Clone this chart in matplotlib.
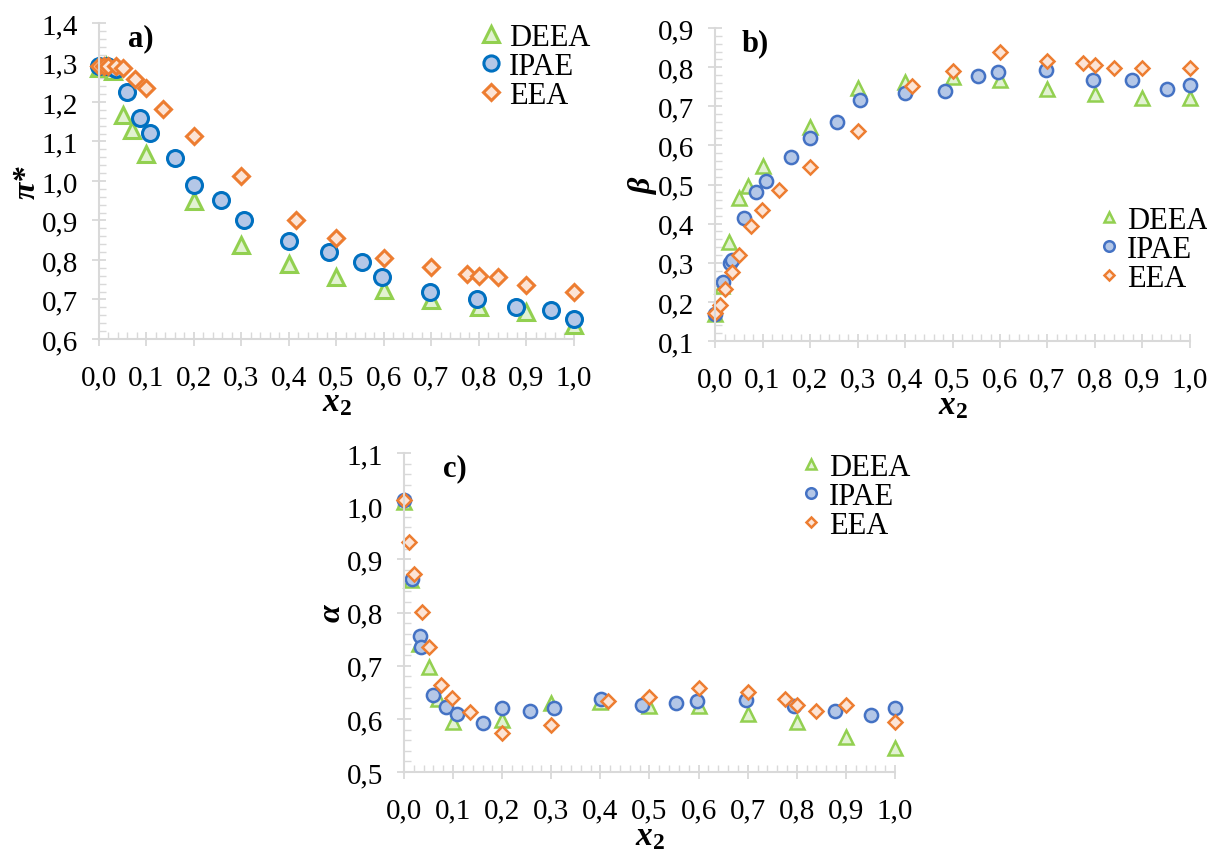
import matplotlib
matplotlib.use("Agg")
import matplotlib.pyplot as plt
from matplotlib.ticker import MultipleLocator, FuncFormatter

plt.rcParams['font.family'] = ['Liberation Serif', 'DejaVu Serif']
plt.rcParams['mathtext.fontset'] = 'custom'
plt.rcParams['mathtext.it'] = 'Liberation Serif:italic:bold'
plt.rcParams['mathtext.rm'] = 'Liberation Serif:bold'

amines = ['DEEA', 'IPAE', 'EEA']

# mole fractions for each amine series
x_deea = [0, 0.015, 0.03, 0.05, 0.07, 0.1, 0.2, 0.3, 0.4, 0.5, 0.6, 0.7, 0.8, 0.9, 1.0]
x_ipae = [0, 0.017, 0.032, 0.035, 0.06, 0.086, 0.108, 0.16, 0.2, 0.256, 0.305, 0.401,
          0.485, 0.553, 0.596, 0.696, 0.795, 0.878, 0.952, 1.0]
x_eea = [0, 0.01, 0.02, 0.036, 0.05, 0.075, 0.098, 0.135, 0.2, 0.3, 0.415, 0.5,
         0.6, 0.7, 0.775, 0.8, 0.84, 0.9, 1.0]

# a) pi*
pi_deea = [1.285, 1.29, 1.278, 1.167, 1.13, 1.068, 0.95, 0.839, 0.79, 0.757, 0.724,
           0.699, 0.68, 0.668, 0.635]
pi_ipae = [1.29, 1.29, 1.285, 1.283, 1.226, 1.16, 1.121, 1.057, 0.99, 0.951, 0.901,
           0.847, 0.82, 0.794, 0.758, 0.72, 0.70, 0.68, 0.673, 0.651]
pi_eea = [1.29, 1.292, 1.292, 1.29, 1.285, 1.258, 1.235, 1.182, 1.115, 1.013, 0.9,
          0.855, 0.805, 0.781, 0.764, 0.759, 0.756, 0.737, 0.718]

# b) beta
beta_deea = [0.17, 0.24, 0.353, 0.465, 0.497, 0.548, 0.646, 0.746, 0.761, 0.776,
             0.766, 0.743, 0.731, 0.721, 0.721]
beta_ipae = [0.17, 0.252, 0.30, 0.306, 0.415, 0.48, 0.508, 0.571, 0.618, 0.659, 0.717,
             0.734, 0.74, 0.778, 0.787, 0.794, 0.767, 0.766, 0.744, 0.754]
beta_eea = [0.172, 0.191, 0.234, 0.276, 0.319, 0.395, 0.434, 0.487, 0.546, 0.636,
            0.753, 0.789, 0.838, 0.817, 0.811, 0.806, 0.798, 0.798, 0.797]

# c) alpha
alpha_deea = [1.008, 0.862, 0.74, 0.697, 0.638, 0.594, 0.597, 0.629, 0.632, 0.625,
              0.624, 0.610, 0.594, 0.566, 0.546]
alpha_ipae = [1.011, 0.864, 0.756, 0.735, 0.645, 0.622, 0.61, 0.593, 0.621, 0.614,
              0.620, 0.638, 0.627, 0.630, 0.633, 0.636, 0.625, 0.614, 0.608, 0.621]
alpha_eea = [1.012, 0.933, 0.872, 0.801, 0.735, 0.664, 0.639, 0.613, 0.573, 0.588,
             0.633, 0.642, 0.659, 0.650, 0.638, 0.627, 0.615, 0.627, 0.595]

GRAY = '#d9d9d9'
green_e, green_f = '#92d050', '#e2f2d2'
orange_e, orange_f = '#ed7d31', '#fce4d6'


def comma(v, pos):
    return ('%.1f' % v).replace('.', ',')


def style_axes(ax, ylim, ylabel):
    ax.set_xlim(0, 1.0)
    ax.set_ylim(*ylim)
    for s in ['top', 'right']:
        ax.spines[s].set_visible(False)
    for s in ['left', 'bottom']:
        ax.spines[s].set_color(GRAY)
        ax.spines[s].set_linewidth(1.5)
    ax.xaxis.set_major_locator(MultipleLocator(0.1))
    ax.xaxis.set_minor_locator(MultipleLocator(0.02))
    ax.yaxis.set_major_locator(MultipleLocator(0.1))
    ax.yaxis.set_minor_locator(MultipleLocator(0.02))
    ax.xaxis.set_major_formatter(FuncFormatter(comma))
    ax.yaxis.set_major_formatter(FuncFormatter(comma))
    ax.tick_params(which='major', direction='inout', length=10, width=1.3, color=GRAY,
                   labelsize=21)
    ax.tick_params(axis='x', which='major', pad=13)
    ax.tick_params(axis='y', which='major', pad=10)
    ax.tick_params(which='minor', direction='in', length=5, width=1.0, color=GRAY)
    ax.set_ylabel(ylabel, fontsize=23, fontweight='bold', fontstyle='italic', labelpad=0)
    ax.set_xlabel(r'$x_2$', fontsize=24, labelpad=-2)


def draw(ax, ys, ipae_edge, ms, lw):
    ax.plot(x_deea, ys[0], ls='none', marker='^', ms=ms, mfc=green_f, mec=green_e,
            mew=lw, label=amines[0], clip_on=False)
    ax.plot(x_ipae, ys[1], ls='none', marker='o', ms=ms, mfc='#b4c7e7', mec=ipae_edge,
            mew=lw, label=amines[1], clip_on=False)
    ax.plot(x_eea, ys[2], ls='none', marker='D', ms=ms * 0.72, mfc=orange_f,
            mec=orange_e, mew=lw, label=amines[2], clip_on=False)


fig = plt.figure(figsize=(12.07, 8.54), dpi=100)
ax_a = fig.add_axes([0.0820, 0.6019, 0.3935, 0.3700])
ax_b = fig.add_axes([0.5924, 0.5995, 0.3935, 0.3665])
ax_c = fig.add_axes([0.3347, 0.0948, 0.4068, 0.3735])

draw(ax_a, [pi_deea, pi_ipae, pi_eea], '#0070c0', 11.5, 2.2)
draw(ax_b, [beta_deea, beta_ipae, beta_eea], '#4472c4', 9.5, 1.8)
draw(ax_c, [alpha_deea, alpha_ipae, alpha_eea], '#4472c4', 9.5, 1.8)

style_axes(ax_a, (0.6, 1.4), 'π*')
style_axes(ax_b, (0.1, 0.9), 'β')
style_axes(ax_c, (0.5, 1.1), 'α')

for ax, lab, fx in [(ax_a, 'a)', 0.061), (ax_b, 'b)', 0.055), (ax_c, 'c)', 0.08)]:
    ax.text(fx, 1.0, lab, transform=ax.transAxes, fontsize=22, fontweight='bold',
            va='top', ha='left')

leg_kw = dict(frameon=False, fontsize=22, handlelength=0.6, handletextpad=0.3,
              labelspacing=0.0, borderpad=0, borderaxespad=0)
ax_a.legend(loc='upper left', bbox_to_anchor=(0.806, 1.0), markerscale=0.95,
            **leg_kw)
ax_b.legend(loc='upper left', bbox_to_anchor=(0.81, 0.431), markerscale=0.8, **leg_kw)
ax_c.legend(loc='upper left', bbox_to_anchor=(0.81, 1.0), markerscale=0.8, **leg_kw)

fig.savefig('out.png', dpi=100)
